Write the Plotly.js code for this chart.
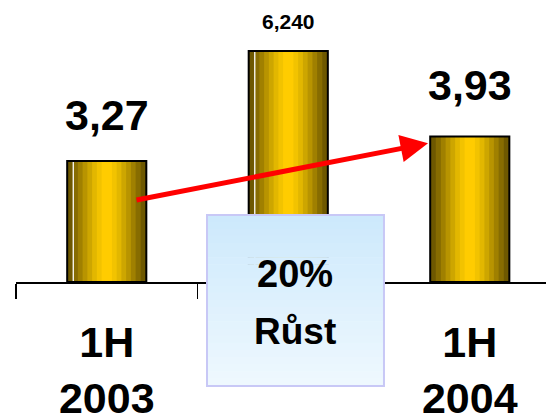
<!DOCTYPE html>
<html>
<head>
<meta charset="utf-8">
<script src="https://cdn.plot.ly/plotly-3.0.1.min.js"></script>
<style>html,body{margin:0;padding:0;background:#fff;}#chart{width:546px;height:418px;}</style>
</head>
<body>
<div id="chart"></div>
<script>
// ---- data ----
const categories = ["1H 2003", "2003", "1H 2004"];
const tickLabels = ["<b>1H</b><br><b>2003</b>", "", "<b>1H</b><br><b>2004</b>"];
const values = [3.27, 6.24, 3.93];
const valueLabels = ["3,27", "6,240", "3,93"];
const growthLines = ["20%", "Růst"];
const highlighted = [true, true, false];

// ---- styling ----
const FONT = "Liberation Sans, Arial, sans-serif";
const BAR_W = 0.436;
const bandFractions = [1.0, 0.86, 0.73, 0.61, 0.49, 0.37, 0.25, 0.13];
const bandColors = ["#6e5800", "#876c00", "#a08000", "#b89400", "#cda600", "#e2b700", "#f2c300", "#ffcc00"];

const traces = [];
bandFractions.forEach((f, i) => {
  traces.push({
    type: "bar", x: categories, y: values, width: BAR_W * f,
    marker: {color: bandColors[i], line: {width: 0}},
    hoverinfo: "skip", showlegend: false
  });
});
// thin white highlight near left edge (first two bars)
traces.push({
  type: "bar", x: categories,
  y: values.map((v, i) => highlighted[i] ? v : null),
  width: 0.007, offset: -BAR_W / 2 + 0.030,
  marker: {color: "#ffffff", line: {width: 0}},
  hoverinfo: "skip", showlegend: false
});
// outline
traces.push({
  type: "bar", x: categories, y: values, width: BAR_W,
  marker: {color: "rgba(0,0,0,0)", line: {color: "#000", width: 2}},
  hoverinfo: "skip", showlegend: false
});

const annotations = [];
const labelShift = [46, 30, 52];
const labelSize = [43, 21, 43];
categories.forEach((c, i) => {
  annotations.push({
    x: i, y: values[i], xref: "x", yref: "y",
    text: "<b>" + valueLabels[i] + "</b>", showarrow: false,
    yanchor: "middle", yshift: labelShift[i],
    font: {family: FONT, size: labelSize[i], color: "#000"}
  });
});
// growth arrow from first to last bar
annotations.push({
  x: 1.77, y: 3.75, xref: "x", yref: "y",
  ax: -293, ay: 57, text: "", showarrow: true,
  arrowhead: 2, arrowsize: 1.1, arrowwidth: 5, arrowcolor: "#ff0000", standoff: 0
});
// growth box text
const boxX0 = 0.3604, boxX1 = 0.6943, boxY1 = 0.2376, boxY0 = -0.3688;
annotations.push({
  x: (boxX0 + boxX1) / 2, y: (282 - 274) / 282, xref: "paper", yref: "paper",
  text: "<b>" + growthLines[0] + "</b>", showarrow: false, yanchor: "middle",
  font: {family: FONT, size: 38, color: "#000"}
});
annotations.push({
  x: (boxX0 + boxX1) / 2, y: (282 - 331) / 282, xref: "paper", yref: "paper",
  text: "<b>" + growthLines[1] + "</b>", showarrow: false, yanchor: "middle",
  font: {family: FONT, size: 37, color: "#000"}
});

// gradient box as strips
const shapes = [];
const nStrips = 24;
const c0 = [205, 233, 252], c1 = [238, 248, 254];
for (let k = 0; k < nStrips; k++) {
  const t = k / (nStrips - 1);
  const col = "rgb(" + c0.map((v, j) => Math.round(v + (c1[j] - v) * t)).join(",") + ")";
  const yTop = boxY1 - (boxY1 - boxY0) * k / nStrips;
  const yBot = boxY1 - (boxY1 - boxY0) * (k + 1) / nStrips;
  shapes.push({type: "rect", xref: "paper", yref: "paper", x0: boxX0, x1: boxX1, y0: yBot, y1: yTop + 0.002,
    fillcolor: col, line: {width: 0}, layer: "above"});
}
shapes.push({type: "rect", xref: "paper", yref: "paper", x0: boxX0, x1: boxX1, y0: boxY0, y1: boxY1,
  fillcolor: "rgba(0,0,0,0)", line: {color: "#c8c8f6", width: 2}, layer: "above"});

const layout = {
  width: 546, height: 418,
  margin: {l: 16, r: 0, t: 0, b: 136, pad: 0},
  paper_bgcolor: "#fff", plot_bgcolor: "#fff",
  barmode: "overlay", showlegend: false,
  xaxis: {
    type: "category", categoryarray: categories, range: [-0.5, 2.42],
    tickmode: "array", tickvals: categories, ticktext: tickLabels,
    tickson: "boundaries", ticks: "outside", ticklen: 15, tickwidth: 1.5, tickcolor: "#000",
    showline: true, linecolor: "#000", linewidth: 1.5, showgrid: false, zeroline: false,
    tickfont: {family: FONT, size: 43, color: "#000"}, ticklabelstandoff: 22,
    fixedrange: true
  },
  yaxis: {range: [0, 282 / 37], visible: false, showgrid: false, zeroline: false, fixedrange: true},
  annotations: annotations,
  shapes: shapes
};

Plotly.newPlot("chart", traces, layout, {displayModeBar: false, staticPlot: true});
</script>
</body>
</html>
